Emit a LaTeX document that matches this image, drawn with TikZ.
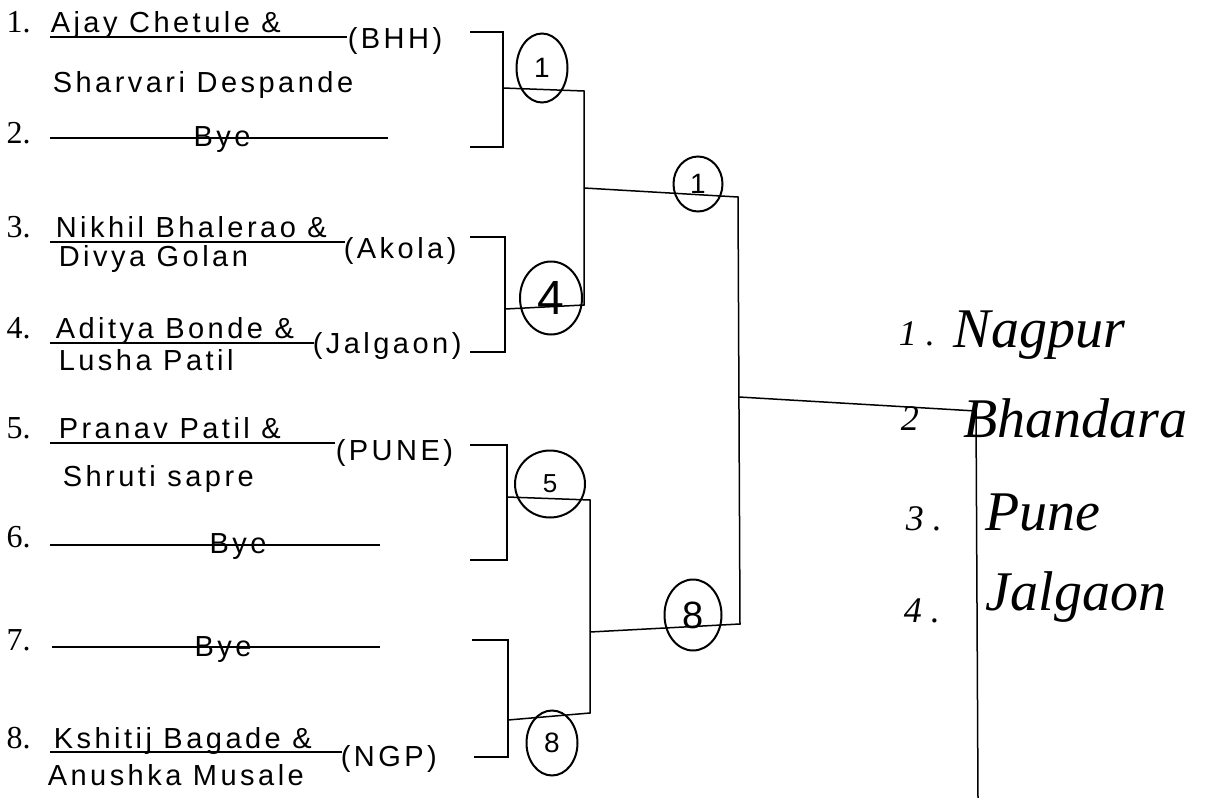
\documentclass[tikz,border=0pt]{standalone}
\usepackage{fontspec}
\setmainfont{Liberation Serif}
\newfontfamily\handfont[LetterSpace=12]{Liberation Sans}
\newfontfamily\seedfont{Liberation Sans}
\usetikzlibrary{shapes.geometric}

\tikzset{
  num/.style={anchor=base west,inner sep=0pt,font=\fontsize{16}{18}\selectfont},
  entry/.style={anchor=base west,inner sep=0pt,font=\handfont\fontsize{14.5}{16}\selectfont},
  bye/.style={anchor=base,inner sep=0pt,font=\handfont\fontsize{14.5}{16}\selectfont},
  seed/.style={draw,ellipse,line width=1pt,inner sep=0pt,font=\seedfont\fontsize{14}{16}\selectfont},
  city/.style={anchor=base west,inner sep=0pt,font=\itshape\fontsize{28}{30}\selectfont},
  rank/.style={anchor=base west,inner sep=0pt,font=\itshape\fontsize{18}{20}\selectfont}
}

\begin{document}
\begin{tikzpicture}[x=0.5pt,y=-0.5pt,line width=0.75pt]
            \useasboundingbox (0,0) rectangle (1206,798);
            % entries
            \node[num] (i1) at (6,32) {1.};
            \node[entry] (n1) at (50,32) {Ajay Chetule \&};
            \node[entry] (p1) at (52,92) {Sharvari Despande};
            \node[entry] (c1) at (347,48) {(BHH)};
            \draw (50,37) -- (347,37);
            \node[num] (i2) at (6,143) {2.};
            \draw (50,138) -- (388,138);
            \node[bye] (n2) at (222,146) {Bye};
            \node[num] (i3) at (6,237) {3.};
            \node[entry] (n3) at (55,237) {Nikhil Bhalerao \&};
            \node[entry] (p3) at (58,266) {Divya Golan};
            \node[entry] (c3) at (343,258) {(Akola)};
            \draw (50,242) -- (345,242);
            \node[num] (i4) at (6,338) {4.};
            \node[entry] (n4) at (55,338) {Aditya Bonde \&};
            \node[entry] (p4) at (58,370) {Lusha Patil};
            \node[entry] (c4) at (312,353) {(Jalgaon)};
            \draw (50,343) -- (314,343);
            \node[num] (i5) at (6,438) {5.};
            \node[entry] (n5) at (58,438) {Pranav Patil \&};
            \node[entry] (p5) at (62,486) {Shruti sapre};
            \node[entry] (c5) at (335,460) {(PUNE)};
            \draw (50,443) -- (335,443);
            \node[num] (i6) at (6,547) {6.};
            \draw (50,545) -- (380,545);
            \node[bye] (n6) at (238,553) {Bye};
            \node[num] (i7) at (6,650) {7.};
            \draw (52,647) -- (380,647);
            \node[bye] (n7) at (223,656) {Bye};
            \node[num] (i8) at (6,748) {8.};
            \node[entry] (n8) at (53,748) {Kshitij Bagade \&};
            \node[entry] (p8) at (47,785) {Anushka Musale};
            \node[entry] (c8) at (340,766) {(NGP)};
            \draw (50,752) -- (342,752);
            % bracket ends
            \coordinate (e1) at (470,32);
            \coordinate (e2) at (470,147);
            \coordinate (e3) at (470,237);
            \coordinate (e4) at (470,352);
            \coordinate (e5) at (470,445);
            \coordinate (e6) at (470,560);
            \coordinate (e7) at (472,640);
            \coordinate (e8) at (474,757);
            \coordinate (j1) at (503,88);
            \coordinate (j2) at (505,309);
            \coordinate (j3) at (507,497);
            \coordinate (j4) at (508,720);
            \coordinate (u1) at (584,91);
            \coordinate (u2) at (584,305);
            \coordinate (j5) at (584,188);
            \coordinate (d1) at (590,500);
            \coordinate (d2) at (590,713);
            \coordinate (j6) at (590,632);
            \coordinate (f1) at (738,197);
            \coordinate (f2) at (740,624);
            \coordinate (j7) at (739,397);
            \coordinate (g1) at (976,411);
            \coordinate (g2) at (978,798);
            \draw (e1) -| (j1) |- (e2);
            \draw (e3) -| (j2) |- (e4);
            \draw (e5) -| (j3) |- (e6);
            \draw (e7) -| (j4) |- (e8);
            \draw (j1) -- (u1) -- (u2) -- (j2);
            \draw (j3) -- (d1) -- (d2) -- (j4);
            \draw (j5) -- (f1) -- (f2) -- (j6);
            \draw (j7) -- (g1) -- (g2);
            % winners
            \node[seed,minimum width=25.5pt,minimum height=34.5pt] (s1) at (542,68) {1};
            \node[seed,minimum width=31pt,minimum height=36.5pt,font=\seedfont\fontsize{24}{26}\selectfont] (s4) at (551,298) {4};
            \node[seed,minimum width=35pt,minimum height=33.5pt,font=\seedfont\fontsize{13}{15}\selectfont] (s5) at (550,484) {5};
            \node[seed,minimum width=25.5pt,minimum height=32.5pt] (s8) at (552,743) {8};
            \node[seed,minimum width=24.5pt,minimum height=27.5pt] (q1) at (698,184) {1};
            \node[seed,minimum width=28.5pt,minimum height=35.5pt,font=\seedfont\fontsize{19}{21}\selectfont] (q8) at (693,615) {8};
            % places
            \node[rank] (k1) at (898,345) {1 .};
            \node[city] (t1) at (953,347) {Nagpur};
            \node[rank] (k2) at (900,430) {2};
            \node[city] (t2) at (963,437) {Bhandara};
            \node[rank] (k3) at (905,530) {3 .};
            \node[city] (t3) at (985,530) {Pune};
            \node[rank] (k4) at (903,622) {4 .};
            \node[city] (t4) at (985,610) {Jalgaon};
        \end{tikzpicture}
\end{document}
